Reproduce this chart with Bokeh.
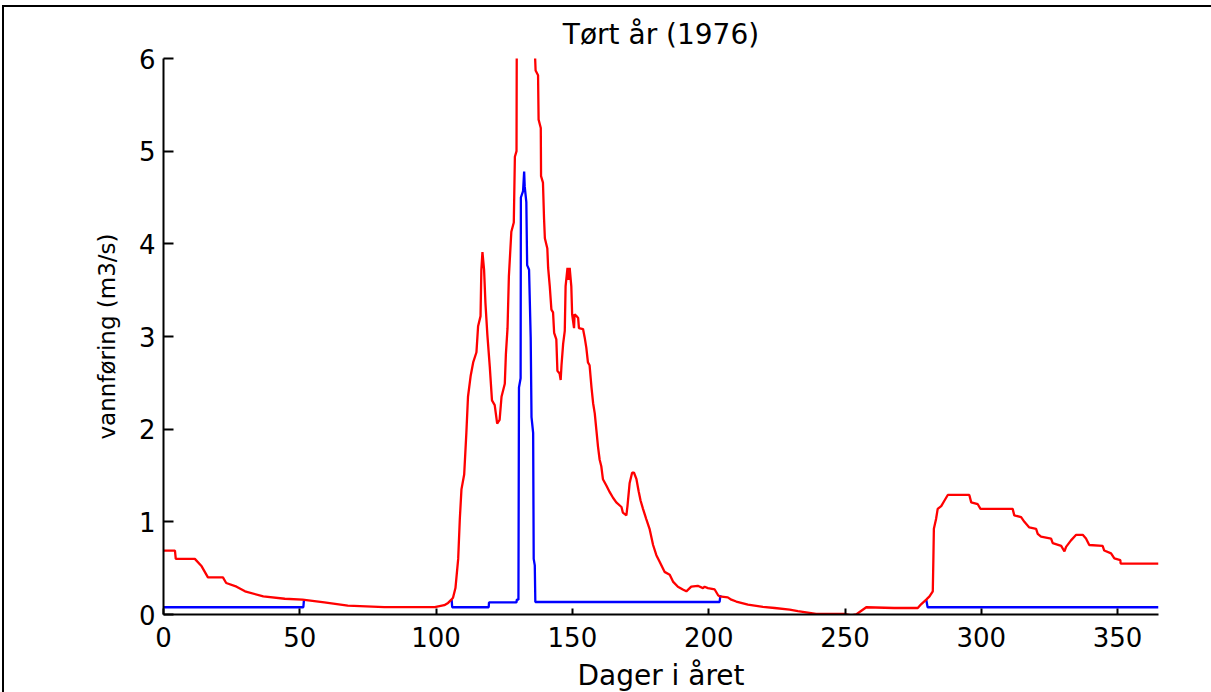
import numpy as np
from bokeh.plotting import figure
from bokeh.models import Range1d, FixedTicker, GlobalInlineStyleSheet
from bokeh.embed import file_html
from bokeh.resources import INLINE

# ---- data ----
title_text = "Tørt år (1976)"
x_label = "Dager i året"
y_label = "vannføring (m3/s)"
x_ticks = [0, 50, 100, 150, 200, 250, 300, 350]
y_ticks = [0, 1, 2, 3, 4, 5, 6]

red_day = [0, 4.2, 4.5, 11.5, 14, 16.3, 21.8, 23, 26.8, 29.9, 36.6, 44.5, 51, 59, 67.6, 81, 99.5,
           103, 104.4, 105.6, 106.2, 107.1, 108.1, 108.7, 109.3, 110.3, 111.1, 111.7, 112.7, 113.6,
           114.8, 115.4, 116.3, 116.6, 117.0, 117.6, 118.1, 118.8, 119.7, 120.5, 121.5, 122.4, 123.3,
           124, 125.2, 125.6, 126.2, 126.7, 127.6, 128.5, 128.9, 129.5, 129.6, 131, 133, 135, 136.2,
           136.5, 137.4, 137.6, 138.4, 138.5, 139.2, 139.6, 139.9, 140.8, 141.1, 141.7, 142.3, 142.9,
           143.3, 144.1, 144.5, 145.3, 145.7, 146.0, 146.6, 147.2, 147.5, 148.2, 148.6, 149.0, 149.6,
           149.9, 150.6, 150.8, 151.5, 152.1, 152.4, 153.9, 154.5, 155.1, 155.7, 156.3, 157.0, 157.6,
           158.2, 158.8, 159.4, 160.0, 160.6, 161.2, 162.5, 163.7, 164.9, 166.1, 168.0, 168.5, 169.8,
           170.2, 171.0, 171.9, 172.6, 173.5, 174.3, 175.0, 175.9, 177.1, 178.3, 179.6, 180.8, 182.0,
           183.8, 185.7, 186.9, 188.7, 190.5, 191.8, 193.6, 196.0, 197.9, 198.5, 199.7, 202.2, 203.4,
           204.0, 207, 208.3, 210.1, 214.4, 219.9, 224.2, 229.7, 232.7, 239.4, 249.8, 252.3, 254.1,
           256, 257.8, 268, 276.7, 277.9, 279.8, 281, 282.2, 282.4, 282.6, 283.4, 284.0, 285.3, 286.5,
           287.7, 295.6, 296.3, 298.7, 299.7, 311.5, 312.1, 314.6, 315.8, 317.6, 320.1, 320.7, 321.9,
           325.6, 326.2, 329.3, 330.5, 331.1, 332.9, 334.8, 337.2, 338.4, 339.6, 344.5, 345.1, 347.6,
           348.8, 351.0, 351.1, 365]
red_flow = [0.69, 0.69, 0.60, 0.60, 0.52, 0.40, 0.40, 0.34, 0.30, 0.25, 0.195, 0.17, 0.16, 0.13, 0.096, 0.08, 0.08,
            0.10, 0.125, 0.16, 0.18, 0.285, 0.60, 1.03, 1.35, 1.51, 1.96, 2.35, 2.58, 2.72,
            2.83, 3.11, 3.22, 3.72, 3.91, 3.72, 3.36, 3.02, 2.67, 2.31, 2.26, 2.06, 2.10,
            2.35, 2.49, 2.81, 3.09, 3.65, 4.13, 4.23, 4.94, 5.0, 6.3, 7.0, 7.5, 7.0, 6.1,
            5.87, 5.82, 5.34, 5.25, 4.73, 4.66, 4.27, 4.06, 3.95, 3.74, 3.54, 3.29, 3.26,
            3.04, 2.97, 2.63, 2.60, 2.53, 2.69, 2.92, 3.06, 3.54, 3.74, 3.61, 3.74, 3.54,
            3.24, 3.09, 3.24, 3.22, 3.20, 3.09, 3.08, 2.99, 2.88, 2.72, 2.69, 2.45, 2.28,
            2.17, 1.99, 1.81, 1.67, 1.60, 1.46, 1.39, 1.32, 1.26, 1.21, 1.16, 1.10, 1.07,
            1.17, 1.42, 1.53, 1.53, 1.46, 1.33, 1.23, 1.14, 1.03, 0.925, 0.75, 0.64, 0.57,
            0.46, 0.43, 0.355, 0.30, 0.27, 0.25, 0.30, 0.31, 0.285, 0.30, 0.285, 0.27, 0.21,
            0.195, 0.185, 0.16, 0.14, 0.107, 0.082, 0.07, 0.053, 0.036, 0.007, 0.007, -0.01, 0.0,
            0.04, 0.078, 0.07, 0.07, 0.11, 0.16, 0.195, 0.25, 0.57, 0.925, 1.03, 1.14, 1.17, 1.23,
            1.29, 1.29, 1.21, 1.19, 1.14, 1.14, 1.07, 1.05, 1.0, 0.94, 0.925, 0.87, 0.84,
            0.82, 0.77, 0.74, 0.68, 0.73, 0.80, 0.86, 0.86, 0.82, 0.75, 0.74, 0.69, 0.66,
            0.605, 0.587, 0.55, 0.55]

nan = float("nan")
blue_day = [0, 51.3, 51.5, nan,
            105.7, 105.9, 119.3, 119.4, 129.5, 129.6, 130.2, 130.4, 131, 131.1, 131.9, 132.3, 132.5,
            133.1, 133.4, 134.1, 134.7, 135.0, 135.6, 135.8, 136.2, 136.4, 204, 204.3, nan,
            279.8, 280.3, 365]
blue_flow = [0.078, 0.078, 0.15, nan,
             0.16, 0.078, 0.078, 0.13, 0.13, 0.16, 0.16, 2.45, 2.55, 4.5, 4.57, 4.78, 4.62,
             4.45, 3.77, 3.72, 2.99, 2.13, 1.96, 0.60, 0.53, 0.135, 0.135, 0.21, nan,
             0.16, 0.078, 0.078]

FONT = "DejaVu Sans"

p = figure(width=1220, height=700, output_backend="svg", toolbar_location=None,
           x_range=Range1d(0, 365), y_range=Range1d(0, 6),
           min_border_left=159, min_border_top=45, min_border_right=66, min_border_bottom=93,
           title=title_text)
p.styles = {"border-top": "2px solid black", "border-left": "2px solid black",
            "transform": "translate(2px, 5px)"}
p.stylesheets = [GlobalInlineStyleSheet(css="html, body { overflow: hidden; }")]

p.outline_line_color = None
p.xgrid.visible = False
p.ygrid.visible = False
p.background_fill_color = "white"
p.border_fill_color = "white"

p.title.align = "center"
p.title.text_font = FONT
p.title.text_font_size = "28px"
p.title.text_font_style = "normal"
p.title.text_color = "black"
p.title.standoff = 16

for ax in (p.xaxis[0], p.yaxis[0]):
    ax.axis_line_color = "black"
    ax.axis_line_width = 2
    ax.major_tick_line_color = "black"
    ax.major_tick_line_width = 2
    ax.major_tick_out = 0
    ax.minor_tick_line_color = None
    ax.major_label_text_font = FONT
    ax.major_label_text_font_size = "26px"
    ax.major_label_text_color = "black"
    ax.axis_label_text_font = FONT
    ax.axis_label_text_font_style = "normal"
    ax.axis_label_text_color = "black"

p.xaxis[0].ticker = FixedTicker(ticks=x_ticks)
p.yaxis[0].ticker = FixedTicker(ticks=y_ticks)
p.xaxis[0].major_tick_in = 6
p.yaxis[0].major_tick_in = 10
p.xaxis[0].major_label_standoff = 12
p.yaxis[0].major_label_standoff = 8
p.xaxis[0].axis_label = x_label
p.yaxis[0].axis_label = y_label
p.xaxis[0].axis_label_text_font_size = "28px"
p.yaxis[0].axis_label_text_font_size = "23px"
p.xaxis[0].axis_label_standoff = 9
p.yaxis[0].axis_label_standoff = 16

p.line(np.array(blue_day), np.array(blue_flow), line_color="#0000FF", line_width=2.3)
p.line(red_day, red_flow, line_color="#FF0000", line_width=2.3)

open("out.html", "w").write(file_html(p, INLINE))
